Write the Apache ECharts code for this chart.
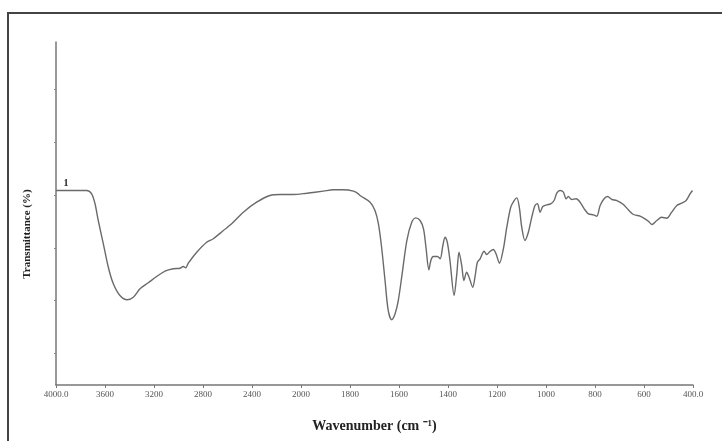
<!DOCTYPE html>
<html>
<head>
<meta charset="utf-8">
<script src="https://cdn.jsdelivr.net/npm/echarts@6/dist/echarts.min.js"></script>
<style>html,body{margin:0;padding:0;background:#fff;}#c{width:722px;height:441px;}</style>
</head>
<body>
<div id="c"></div>
<script>
// Tick labels of the (split-scale) wavenumber axis
var xTickLabels = ['4000.0','3600','3200','2800','2400','2000','1800','1600','1400','1200','1000','800','600','400.0'];
// Wavenumbers (cm-1)
var wavenumbers = [4000,3749,3709,3682,3655,3614,3573,3532,3478,3418,3369,3314,3247,3178,3110,3042,2988,2961,2941,2920,2851,2770,2716,2634,2566,2471,2362,2253,2171,2063,
1977,1909,1868,1827,1786,1766,1759,1718,1698,1684,1671,1657,1644,1630,1616,1603,1589,1568,1548,1532,1514,1500,1490,1478,1470,1460,1443,1432,1421,1412,1403,1392,1375,1364,1355,1344,1335,1324,1314,1299,1290,1280,1269,1253,1242,1229,1215,1204,1190,1174,1160,1144,1130,1119,1109,1099,1086,1072,1058,1045,1035,1024,1013,997,981,967,956,943,929,918,909,895,877,861,844,827,806,793,779,763,749,731,711,684,664,643,616,596,582,568,548,528,507,487,466,446,428,412,402];
// Transmittance (arbitrary units)
var transmittance = [36.86,36.86,36.23,34.39,31.17,26.81,22.32,19.18,16.96,16.15,16.64,18.23,19.37,20.56,21.57,22.02,22.13,22.46,22.21,23.08,25.17,27.06,27.71,29.28,30.55,32.75,34.64,35.91,36.10,36.10,
36.35,36.73,36.99,36.99,36.73,36.23,35.91,34.64,33.07,30.55,26.11,19.80,14.12,12.36,13.49,16.01,20.43,27.38,30.85,31.68,31.17,29.60,26.11,21.83,23.59,24.35,24.35,23.92,26.44,28.01,27.06,23.59,16.96,21.07,25.17,22.65,19.80,21.38,20.43,18.53,20.43,23.27,23.92,25.36,24.73,25.30,25.68,24.86,23.08,25.81,29.90,33.69,34.96,35.47,33.69,29.90,27.38,28.96,31.80,34.02,34.34,32.75,33.83,34.15,34.34,34.96,36.35,36.86,36.54,35.29,35.72,35.15,35.29,34.64,33.39,32.44,32.25,31.99,34.02,35.29,35.72,35.15,34.96,34.21,33.20,32.31,31.99,31.50,31.04,30.42,31.17,31.80,31.61,32.75,34.02,34.45,34.96,36.23,36.86];
var yTickValues = [6,16,26,36,46,56];

// axis scale: 400 cm-1 per step above 2000, 200 cm-1 per step below
function toPos(w){ return w >= 2000 ? (4000 - w) / 400 : 5 + (2000 - w) / 200; }

var seriesData = wavenumbers.map(function(w, i){ return [toPos(w), transmittance[i]]; });

var chart = echarts.init(document.getElementById('c'));
var serif = '"Liberation Serif","Times New Roman",serif';
chart.setOption({
  animation: false,
  backgroundColor: '#fff',
  grid: { left: 56, right: 29, top: 42, bottom: 56 },
  xAxis: {
    type: 'value', min: 0, max: 13, interval: 1,
    axisLine: { lineStyle: { color: '#777', width: 1.5 } },
    axisTick: { show: true, length: 3, lineStyle: { color: '#777' } },
    axisLabel: { margin: 5, fontFamily: serif, fontSize: 9, color: '#555',
      formatter: function(v){ return xTickLabels[Math.round(v)]; } },
    splitLine: { show: false },
    name: 'Wavenumber (cm \u207B\u00B9)', nameLocation: 'middle', nameGap: 34,
    nameTextStyle: { fontFamily: serif, fontWeight: 'bold', fontSize: 14, color: '#222' }
  },
  yAxis: {
    type: 'value', min: 0, max: 65,
    axisLine: { show: true, lineStyle: { color: '#777', width: 1.5 } },
    axisTick: { show: true, length: 2, customValues: yTickValues, lineStyle: { color: '#888' } },
    axisLabel: { show: false },
    splitLine: { show: false }
  },
  graphic: [
    { type: 'rect', shape: { x: 8, y: 13, width: 760, height: 460 }, style: { fill: 'none', stroke: '#444', lineWidth: 2 } },
    { type: 'text', x: 27, y: 234, rotation: Math.PI / 2,
      style: { text: 'Transmittance (%)', font: 'bold 11px ' + serif, fill: '#222', textAlign: 'center', textVerticalAlign: 'middle' } },
    { type: 'text', x: 66, y: 183,
      style: { text: '1', font: 'bold 10px ' + serif, fill: '#222', textAlign: 'center', textVerticalAlign: 'middle' } }
  ],
  series: [{
    type: 'line', data: seriesData, smooth: 0.3, showSymbol: false,
    lineStyle: { color: '#6a6a6a', width: 1.4 }
  }]
});
</script>
</body>
</html>
